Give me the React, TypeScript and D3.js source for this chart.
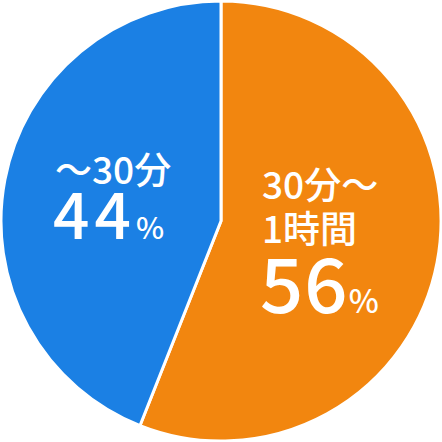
import * as d3 from "d3";
import { useEffect, useRef } from "react";

const categories: string[] = ["30分～1時間", "～30分"];
const values: number[] = [56, 44];
const colors: string[] = ["#f2860f", "#1b80e4"];
// label lines for each slice
const labelLines: string[][] = [["30分～", "1時間"], ["～30分"]];
const percentLabels: string[] = ["56", "44"];

const width = 442;
const height = 442;
const radius = 220;

export default function App() {
  const svgRef = useRef<SVGSVGElement>(null);

  useEffect(() => {
    const svg = d3.select(svgRef.current);
    svg.selectAll("*").remove();

    const g = svg.append("g").attr("transform", `translate(${width / 2},${height / 2})`);

    const pie = d3.pie<number>().sort(null).value((d) => d);
    const arcs = pie(values);
    const arc = d3.arc<d3.PieArcDatum<number>>().innerRadius(0).outerRadius(radius);

    g.selectAll("path")
      .data(arcs)
      .enter()
      .append("path")
      .attr("d", arc)
      .attr("fill", (_, i) => colors[i])
      .attr("stroke", "#fff")
      .attr("stroke-width", 3)
      .attr("stroke-linejoin", "round");

    const font = "'Noto Sans CJK JP', 'Noto Sans', sans-serif";

    // label placement (left x, baselines) per slice
    const layout = [
      { x: 262, lines: [199, 243], pct: 313, size: 37, big: 76, pctSize: 32, ls: 1 },
      { x: 55, lines: [184], pct: 239, size: 37, big: 64, pctSize: 30, ls: 5 },
    ];

    categories.forEach((_, i) => {
      const L = layout[i];
      const t = svg.append("g").attr("fill", "#fff").style("font-family", font).style("font-weight", 500);
      labelLines[i].forEach((line, j) => {
        t.append("text")
          .attr("x", L.x)
          .attr("y", L.lines[j])
          .attr("font-size", L.size)
          .text(line);
      });
      const p = t.append("text").attr("x", L.x - 2).attr("y", L.pct);
      p.append("tspan").attr("font-size", L.big).attr("letter-spacing", L.ls).text(percentLabels[i]);
      p.append("tspan").attr("font-size", L.pctSize).text("%");
    });
  }, []);

  return (
    <svg
      ref={svgRef}
      width={width}
      height={height}
      style={{ position: "absolute", left: 0, top: 0 }}
    />
  );
}
